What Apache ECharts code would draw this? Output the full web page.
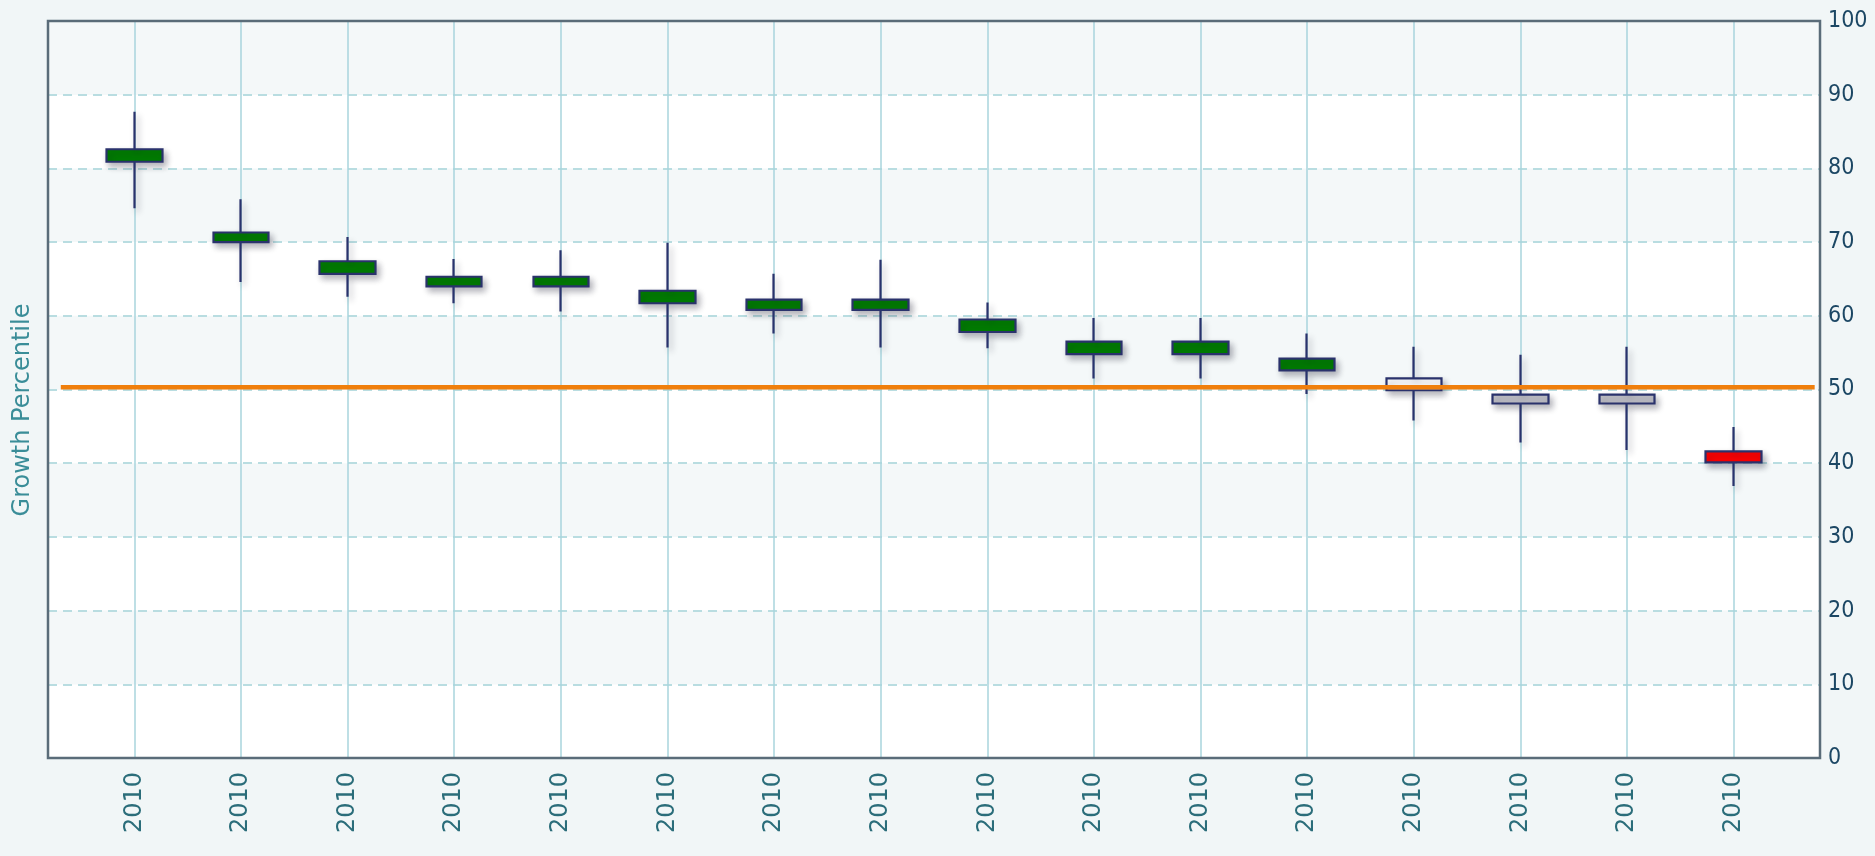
<!DOCTYPE html>
<html><head><meta charset="utf-8">
<script src="https://cdn.jsdelivr.net/npm/echarts@6/dist/echarts.min.js"></script>
<style>html,body{margin:0;padding:0;background:#f1f6f7}#c{width:1875px;height:856px}</style>
</head><body><div id="c"></div>
<script>
const categories = ['2010','2010','2010','2010','2010','2010','2010','2010','2010','2010','2010','2010','2010','2010','2010','2010'];
const bodyLow  = [80.9, 70.0, 65.7, 64.0, 64.0, 61.7, 60.8, 60.8, 57.8, 54.8, 54.8, 52.6, 49.9, 48.1, 48.1, 40.1];
const bodyHigh = [82.6, 71.3, 67.4, 65.3, 65.3, 63.4, 62.2, 62.2, 59.5, 56.5, 56.5, 54.2, 51.5, 49.3, 49.3, 41.6];
const lows     = [74.6, 64.6, 62.6, 61.7, 60.6, 55.7, 57.6, 55.7, 55.6, 51.5, 51.5, 49.4, 45.8, 42.8, 41.8, 36.9];
const highs    = [87.7, 75.8, 70.7, 67.7, 68.9, 69.9, 65.7, 67.6, 61.8, 59.7, 59.7, 57.6, 55.8, 54.7, 55.8, 44.9];
const levels   = ['high','high','high','high','high','high','high','high','high','high','high','high','typical','low','low','veryLow'];
const yMin = 0, yMax = 100, yStep = 10;
const benchmark = 50.3;
const benchmarkSpan = [-0.69, 15.76];
const xPad = [-0.81, 15.81];
const axisTitle = 'Growth Percentile';

const levelColors = { high: '#007d00', typical: '#ffffff', low: '#c3c3ca', veryLow: '#ff0000' };
const navy = '#2a326c';

const candleData = categories.map((c, i) => {
  const col = levelColors[levels[i]];
  return {
    value: [bodyLow[i], bodyHigh[i], lows[i], highs[i]],
    itemStyle: { color: col, color0: col, borderColor: navy, borderColor0: navy }
  };
});

const G = { left: 48, right: 55, top: 21, bottom: 98 };
const chart = echarts.init(document.getElementById('c'), null, { renderer: 'canvas' });
chart.setOption({
  backgroundColor: '#f1f6f7',
  animation: false,
  grid: [
    { left: 81, right: 88, top: G.top, bottom: G.bottom },
    { left: G.left, right: G.right, top: G.top, bottom: G.bottom }
  ],
  xAxis: [
    {
      type: 'category', gridIndex: 0, data: categories, boundaryGap: true, z: 2,
      axisLine: { show: false }, axisTick: { show: false },
      axisLabel: { interval: 0, rotate: 90, margin: 14, color: '#2b6d7a', fontFamily: 'DejaVu Sans', fontSize: 24 },
      splitLine: { show: true, alignWithLabel: true, interval: 0, lineStyle: { color: '#a9d4dc', width: 1.5 } }
    },
    {
      type: 'value', gridIndex: 1, min: xPad[0], max: xPad[1], show: false
    }
  ],
  yAxis: [
    { type: 'value', gridIndex: 0, min: yMin, max: yMax, show: false },
    {
      type: 'value', gridIndex: 1, position: 'right', min: yMin, max: yMax, interval: yStep, z: 1,
      axisLine: { show: false }, axisTick: { show: false },
      axisLabel: { margin: 8, color: '#1c4764', fontFamily: 'Liberation Sans Narrow, DejaVu Sans Condensed, sans-serif', fontSize: 23 },
      splitLine: { show: true, lineStyle: { color: '#b9dde1', width: 2, type: [9, 6] } },
      splitArea: { show: true, areaStyle: { color: ['#ffffff', '#f4f8f9'] } }
    }
  ],
  series: [
    {
      type: 'candlestick', xAxisIndex: 0, yAxisIndex: 0, barWidth: 56, z: 3,
      data: candleData,
      itemStyle: { borderWidth: 2.2, shadowBlur: 6, shadowOffsetX: 3, shadowOffsetY: 4, shadowColor: 'rgba(20,20,40,0.3)' },
      emphasis: { disabled: true }
    },
    {
      type: 'line', xAxisIndex: 1, yAxisIndex: 1, symbol: 'none', z: 5,
      data: [[benchmarkSpan[0], benchmark], [benchmarkSpan[1], benchmark]],
      lineStyle: { color: '#f07f0c', width: 4.5 }
    }
  ],
  graphic: [
    {
      type: 'rect', z: 100,
      shape: { x: G.left, y: G.top, width: 1875 - G.left - G.right, height: 856 - G.top - G.bottom },
      style: { fill: 'none', stroke: '#5a6c79', lineWidth: 2.5 }
    },
    {
      type: 'text', z: 100, x: 23, y: 410, rotation: Math.PI / 2,
      style: { text: axisTitle, fill: '#3a8d98', font: '24px "DejaVu Sans"', align: 'center', verticalAlign: 'middle' }
    }
  ]
});
</script></body></html>
